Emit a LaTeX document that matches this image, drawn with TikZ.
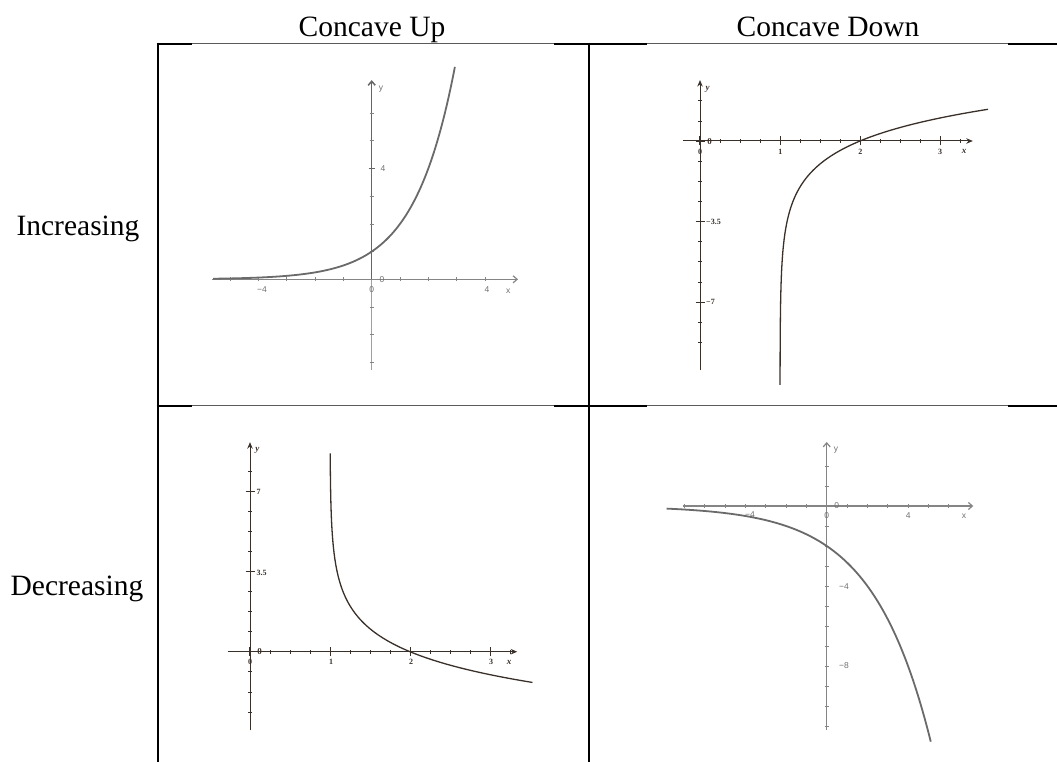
\documentclass[tikz,border=0pt]{standalone}
\usepackage{fontspec}
\setmainfont{Liberation Serif}
\setsansfont{Liberation Sans}
\usetikzlibrary{arrows.meta}
\definecolor{ink}{HTML}{3A302A}
\definecolor{gax}{HTML}{858585}
\definecolor{gaxl}{HTML}{A0A0A0}
\definecolor{gdark}{HTML}{666666}
\definecolor{gcurve}{HTML}{6A6A6A}
\definecolor{glab}{HTML}{707070}
\definecolor{border}{HTML}{5A5A5A}
\begin{document}
\begin{tikzpicture}[x=1pt,y=-1pt,
  hdr/.style={font=\fontsize{29.5}{32}\selectfont, anchor=base, inner sep=0pt},
  thickrule/.style={line width=2pt, black},
  thinrule/.style={line width=1pt, border},
  lbl/.style={font=\fontsize{8}{9}\selectfont\bfseries, text=ink, inner sep=0pt},
  lbli/.style={font=\fontsize{9}{10}\selectfont\bfseries\itshape, text=ink, inner sep=0pt},
  glbl/.style={font=\fontsize{8.5}{9}\selectfont\sffamily, text=glab, inner sep=0pt},
  dax/.style={ink, line width=1pt, -{Stealth[length=6.5pt,width=5.5pt]}},
  dtick/.style={ink, line width=0.7pt},
  dcurve/.style={ink, line width=1.3pt},
  gaxis/.style={gax, line width=1.2pt, -{Straight Barb[length=4pt,width=7pt]}},
  gtick/.style={gax, line width=0.7pt},
  gcurv/.style={gcurve, line width=1.8pt}
]
\useasboundingbox (0,0) rectangle (1057,762);

% ---------------- table rules ----------------
\draw[thinrule] (192,43.7) -- (554,43.7);
\draw[thinrule] (647,43.7) -- (1008,43.7);
\draw[thickrule] (156.5,43.7) -- (192,43.7);
\draw[thickrule] (554,43.7) -- (647,43.7);
\draw[thickrule] (1008,43.7) -- (1057,43.7);
\draw[thinrule] (192,405.5) -- (554,405.5);
\draw[thinrule] (647,405.5) -- (1008,405.5);
\draw[thickrule] (156.5,405.5) -- (192,405.5);
\draw[thickrule] (554,405.5) -- (647,405.5);
\draw[thickrule] (1008,405.5) -- (1057,405.5);
\draw[thickrule] (157.5,42.7) -- (157.5,762);
\draw[thickrule] (589,42.7) -- (589,762);

% ---------------- headers ----------------
\node[hdr] (hup) at (372,37) {Concave Up};
\node[hdr] (hdown) at (828,37) {Concave Down};
\node[hdr] (rinc) at (78,235.7) {Increasing};
\node[hdr] (rdec) at (77,595) {Decreasing};

% ---------------- panel 1: y = 2^x ----------------
\begin{scope}[shift={(371.7pt,-279.3pt)}, x=28.3pt, y=27.7pt]
  \draw[gaxl, line width=0.9pt] (0,-3.27) -- (0,0);
  \draw[gdark, line width=1.5pt, -{Straight Barb[length=4pt,width=7pt]}] (0,0) -- (0,7.19);
  \draw[gaxis] (-5.64,0) -- (5.17,0);
  \foreach \i in {-5,...,-1,1,2,...,4} \draw[gtick] (\i,0) ++(0,-2pt) -- ++(0,4pt);
  \foreach \j in {-3,...,-1,1,2,...,6} \draw[gtick] (0,\j) ++(-2pt,0) -- ++(4pt,0);
  \draw[gdark, line width=1.2pt] (0,4) ++(-3pt,0) -- ++(6pt,0);
  \draw[gcurv] plot[domain=-5.6:2.94, samples=120] (\x,{pow(2,\x)});
\end{scope}
\node[glbl] (p1y) at (381,89) {y};
\node[glbl] (p1y4) at (383,168.3) {4};
\node[glbl] (p1xm4) at (262,290) {−4};
\node[glbl] (p1x4) at (487,289.3) {4};
\node[glbl] (p1x) at (508.3,291.7) {x};
\node[glbl] (p1o) at (371.7,290) {0};
\node[glbl] (p1o2) at (382,279.3) {0};

% ---------------- panel 2: y = log2(x-1) ----------------
\begin{scope}[shift={(700pt,-141pt)}, x=80pt, y=23pt]
  \draw[dax] (-0.2125,0) -- (3.41,0);
  \draw[dax] (0,-9.96) -- (0,2.65);
  \foreach \i in {0.25,0.5,...,3.3} \draw[dtick] (\i,0) ++(0,-2.2pt) -- ++(0,4.4pt);
  \foreach \i in {1,2,3} \draw[dtick, line width=0.9pt] (\i,0) ++(0,-4.5pt) -- ++(0,9pt);
  \draw[ink, line width=1.1pt] (0,0) ++(-4.5pt,0) -- ++(9pt,0);
  \draw[ink, line width=1.1pt] (0,0) ++(0,-4.5pt) -- ++(0,9pt);
  \foreach \k in {-2,...,10} \draw[dtick] (0,{-0.875*(\k)}) ++(-2.2pt,0) -- ++(4.4pt,0);
  \foreach \k in {4,8} \draw[dtick, line width=0.9pt] (0,{-0.875*(\k)}) ++(-4.5pt,0) -- ++(9pt,0);
  \draw[dcurve] plot[domain=-10.6:1.38, samples=200, variable=\t] ({1+pow(2,\t)},\t);
\end{scope}
\node[lbli] (p2y) at (707.7,89.3) {y};
\node[lbl, font=\fontsize{9}{10}\selectfont\bfseries] (p2o2) at (709.5,141.7) {0};
\node[lbl] (p2o) at (700,151.7) {0};
\node[lbl] (p2x1) at (780.3,151.7) {1};
\node[lbl] (p2x2) at (860.3,151.7) {2};
\node[lbl] (p2x3) at (940,151.7) {3};
\node[lbli] (p2x) at (964,151.7) {x};
\node[lbl, anchor=west] (p2m35) at (706,221.7) {−3.5};
\node[lbl, anchor=west] (p2m7) at (706,301.7) {−7};

% ---------------- panel 3: y = -log2(x-1) ----------------
\begin{scope}[shift={(250pt,-651.7pt)}, x=80pt, y=22.95pt]
  \draw[dax] (-0.279,0) -- (3.34,0);
  \draw[dax] (0,-3.43) -- (0,9.13);
  \foreach \i in {0.25,0.5,...,3.3} \draw[dtick] (\i,0) ++(0,-2.2pt) -- ++(0,4.4pt);
  \foreach \i in {1,2,3} \draw[dtick, line width=0.9pt] (\i,0) ++(0,-4.5pt) -- ++(0,9pt);
  \draw[ink, line width=1.1pt] (0,0) ++(-4.5pt,0) -- ++(9pt,0);
  \draw[ink, line width=1.1pt] (0,0) ++(0,-4.5pt) -- ++(0,9pt);
  \foreach \k in {-3,...,9} \draw[dtick] (0,{0.875*(\k)}) ++(-2.2pt,0) -- ++(4.4pt,0);
  \foreach \k in {4,8} \draw[dtick, line width=0.9pt] (0,{0.875*(\k)}) ++(-4.5pt,0) -- ++(9pt,0);
  \draw[dcurve] plot[domain=-1.34:8.64, samples=200, variable=\t] ({1+pow(2,-1*(\t))},\t);
\end{scope}
\node[lbli] (p3y) at (257.3,450.7) {y};
\node[lbl, anchor=west] (p3y7) at (256.5,492.3) {7};
\node[lbl, anchor=west] (p3y35) at (256.5,572.7) {3.5};
\node[lbl, font=\fontsize{9}{10}\selectfont\bfseries] (p3o2) at (259.5,651.7) {0};
\node[lbl] (p3o) at (250,661.7) {0};
\node[lbl] (p3x1) at (331,661.7) {1};
\node[lbl] (p3x2) at (411,661.7) {2};
\node[lbl] (p3x3) at (491,661.7) {3};
\node[lbli] (p3x) at (509,662.7) {x};

% ---------------- panel 4: y = -2^(x/2+1) ----------------
\begin{scope}[shift={(826.7pt,-506pt)}, x=20.33pt, y=20pt]
  \draw[gaxis] (-7.08,0) -- (7.21,0);
  \draw[gaxis] (0,-11.2) -- (0,3.2);
  \foreach \i in {-7,...,-1,1,2,...,6} \draw[gtick] (\i,0) ++(0,-2pt) -- ++(0,4pt);
  \foreach \j in {-11,...,-1,1,2} \draw[gtick] (0,\j) ++(-2pt,0) -- ++(4pt,0);
  \draw[gcurv] plot[domain=-7.87:5.12, samples=120] (\x,{-pow(2,\x/2+1)});
\end{scope}
\node[glbl] (p4y) at (836,450) {y};
\node[glbl] (p4o2) at (836.7,506) {0};
\node[glbl] (p4o) at (826.7,516) {0};
\node[glbl] (p4xm4) at (750,515) {−4};
\node[glbl] (p4x4) at (908.3,516) {4};
\node[glbl] (p4x) at (964,516.7) {x};
\node[glbl] (p4ym4) at (844,586.7) {−4};
\node[glbl] (p4ym8) at (844,666) {−8};
\end{tikzpicture}
\end{document}
